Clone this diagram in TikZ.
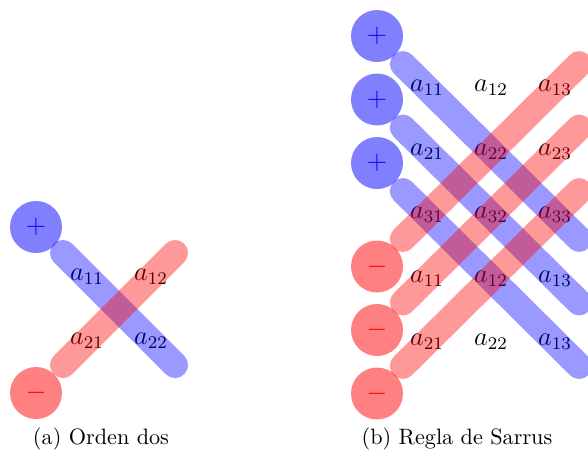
\documentclass[tikz,border=0pt]{standalone}
\usepackage{tikz}
\usetikzlibrary{positioning}
\begin{document}
\begin{tikzpicture}[x=0.45pt, y=-0.45pt,
    entry/.style={font=\large, inner sep=1pt},
    pluscirc/.style={circle, fill=blue!50, text=blue, minimum size=23.4pt, inner sep=0pt, font=\large},
    minuscirc/.style={circle, fill=red!50, text=red, minimum size=23.4pt, inner sep=0pt, font=\large},
    bandB/.style={draw=blue, draw opacity=0.4, line width=11.7pt, line cap=round, shorten <=-15.3pt, shorten >=-15.3pt},
    bandR/.style={draw=red, draw opacity=0.4, line width=11.7pt, line cap=round, shorten <=-15.3pt, shorten >=-15.3pt},
    subcap/.style={font=\normalsize},
]
\useasboundingbox (0,0) rectangle (588,452);
% orden dos
\node[entry] (l11) at (87,277) {$a_{11}$};
\node[entry] (l12) at (151,277) {$a_{12}$};
\node[entry] (l21) at (87,341) {$a_{21}$};
\node[entry] (l22) at (151,341) {$a_{22}$};
\node[pluscirc] (lp) at (36,227) {$+$};
\node[minuscirc] (lm) at (36,393) {$-$};
\draw[bandB] (l11.center) -- (l22.center);
\draw[bandR] (l21.center) -- (l12.center);
\node[subcap] (capa) at (101,439) {(a) Orden dos};
% Sarrus: las dos primeras filas se repiten abajo
\foreach \i/\j/\lab in {1/1/11, 1/2/12, 1/3/13, 2/1/21, 2/2/22, 2/3/23, 3/1/31, 3/2/32, 3/3/33,
                        4/1/11, 4/2/12, 4/3/13, 5/1/21, 5/2/22, 5/3/13} {
    \node[entry] (r\i\j) at ({427+64*(\j-1)},{88+63.5*(\i-1)}) {$a_{\lab}$};
}
\foreach \i in {1,2,3} {
    \node[pluscirc] (rp\i) at (377,{36+63.5*(\i-1)}) {$+$};
    \node[minuscirc] (rm\i) at (377,{266.5+63.5*(\i-1)}) {$-$};
}
\foreach \i [evaluate=\i as \k using int(\i+2)] in {1,2,3}
    \draw[bandB] (r\i1.center) -- (r\k3.center);
\foreach \i [evaluate=\i as \k using int(\i+2)] in {1,2,3}
    \draw[bandR] (r\k1.center) -- (r\i3.center);
\node[subcap] (capb) at (457,439) {(b) Regla de Sarrus};
\end{tikzpicture}
\end{document}
